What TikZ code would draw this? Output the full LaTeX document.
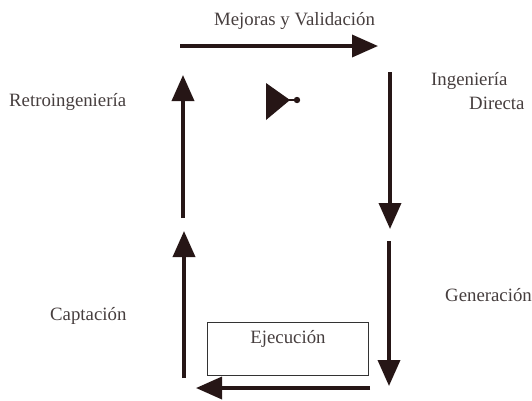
\documentclass[tikz,border=0pt]{standalone}
\usepackage{fontspec}
\setmainfont{Liberation Serif}
\usetikzlibrary{arrows.meta}
\definecolor{ink}{RGB}{38,22,22}
\definecolor{txt}{RGB}{70,62,62}
\begin{document}
\begin{tikzpicture}[x=1pt,y=-1pt,
  flow/.style={line width=3.6pt, draw=ink, -{Triangle[length=26pt,width=22pt]}},
  lbl/.style={font=\fontsize{18.8}{22}\selectfont, text=txt, inner sep=0pt}]
\useasboundingbox (0,0) rectangle (532,400);
% corner anchors of the cycle
\coordinate (t1) at (180,46);  \coordinate (t2) at (378,46);
\coordinate (r1) at (390,72);  \coordinate (r2) at (390,229);
\coordinate (r3) at (389,241); \coordinate (r4) at (389,386);
\coordinate (b1) at (370,388); \coordinate (b2) at (196,388);
\coordinate (l1) at (184,378); \coordinate (l2) at (184,231);
\coordinate (l3) at (183,218); \coordinate (l4) at (183,75);
\draw[flow] (t1) -- (t2);
\draw[flow] (r1) -- (r2);
\draw[flow] (r3) -- (r4);
\draw[flow] (b1) -- (b2);
\draw[flow] (l1) -- (l2);
\draw[flow] (l3) -- (l4);
% small marker
\fill[ink] (266,83) -- (290,100) -- (266,120) -- cycle;
\draw[line width=2pt, ink] (288,100) -- (296,100);
\fill[ink] (297,100) circle (3.2pt);
% execution box
\node[draw=black!80, line width=0.8pt, minimum width=161pt, minimum height=53pt, inner sep=0pt] (ej) at (287.5,348.5) {};
\node[lbl, anchor=base] (ejt) at (288,343) {Ejecución};
% labels
\node[lbl, anchor=base] (mv) at (294.5,25) {Mejoras y Validación};
\node[lbl, anchor=base west] (ret) at (9,106) {Retroingeniería};
\node[lbl, anchor=base west] (ing) at (431,85) {Ingeniería};
\node[lbl, anchor=base west] (dir) at (469,109) {Directa};
\node[lbl, anchor=base west] (gen) at (445,301) {Generación};
\node[lbl, anchor=base west] (cap) at (50,320) {Captación};
\end{tikzpicture}
\end{document}
